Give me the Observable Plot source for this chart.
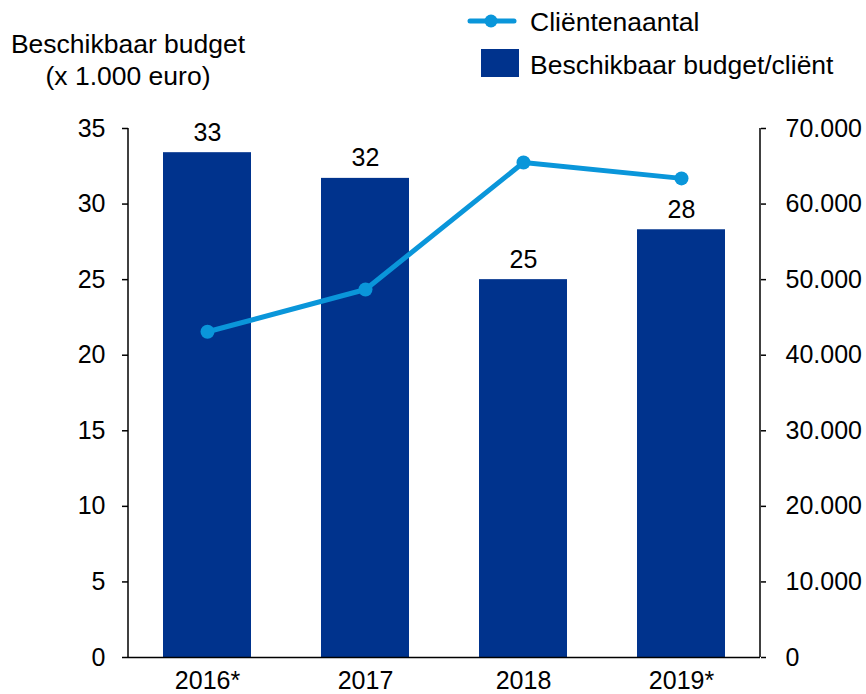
<!DOCTYPE html>
<html>
<head>
<meta charset="utf-8">
<script src="https://cdn.jsdelivr.net/npm/d3@7"></script>
<script src="https://cdn.jsdelivr.net/npm/@observablehq/plot@0.6"></script>
<style>
  html, body { margin: 0; padding: 0; background: #fff; }
  #chart { width: 866px; height: 694px; }
</style>
</head>
<body>
<div id="chart"></div>
<script>
const years = ["2016*", "2017", "2018", "2019*"];
const budget = [33.4, 31.7, 25.0, 28.3];
const clients = [43100, 48700, 65500, 63400];
const leftTicks = [0, 5, 10, 15, 20, 25, 30, 35];
const rightTicks = [0, 10000, 20000, 30000, 40000, 50000, 60000, 70000];
const titleLines = ["Beschikbaar budget", "(x 1.000 euro)"];
const legendLabels = ["Cliëntenaantal", "Beschikbaar budget/cliënt"];

const lineColor = "#0a96da";
const barColor = "#00338d";
const font = "'Liberation Sans', Arial, sans-serif";

const ratio = 70000 / 35;
const data = years.map((y, i) => ({year: y, budget: budget[i], clients: clients[i], cy: clients[i] / ratio}));
const fmt = d => d === 0 ? "0" : d3.format(",")(d).replace(/,/g, ".");

const chart = Plot.plot({
  width: 866,
  height: 694,
  marginTop: 128,
  marginBottom: 37,
  marginLeft: 128,
  marginRight: 106,
  style: {fontFamily: font, fontSize: "25px", color: "#000", background: "#fff", overflow: "visible"},
  x: {domain: years, paddingInner: 0.44, paddingOuter: 0.22, label: null},
  y: {domain: [0, 35], label: null},
  marks: [
    Plot.barY(data, {x: "year", y: "budget", fill: barColor}),
    Plot.text(data, {x: "year", y: "budget", text: d => String(Math.round(d.budget)), lineAnchor: "bottom", dy: -12, fontSize: 25, fill: "#000"}),
    Plot.line(data, {x: "year", y: "cy", stroke: lineColor, strokeWidth: 5}),
    Plot.dot(data, {x: "year", y: "cy", r: 7, fill: lineColor}),
    Plot.ruleY([0], {stroke: "#000", strokeWidth: 1.5}),
    Plot.axisY(leftTicks, {anchor: "left", tickSize: 6, tickPadding: 17, fontSize: 25, label: null, stroke: "#000", strokeWidth: 1.5}),
    Plot.axisY(rightTicks.map(d => d / ratio), {anchor: "right", tickSize: 5, tickPadding: 20, fontSize: 25, label: null, stroke: "#000", strokeWidth: 1.5, tickFormat: d => fmt(Math.round(d * ratio))}),
    Plot.axisX({tickSize: 0, tickPadding: 14, fontSize: 25, label: null})
  ]
});
document.getElementById("chart").appendChild(chart);

const svg = d3.select(chart);
// vertical axis lines
svg.append("line").attr("x1", 128).attr("x2", 128).attr("y1", 128).attr("y2", 657).attr("stroke", "#000").attr("stroke-width", 1.5);
svg.append("line").attr("x1", 760).attr("x2", 760).attr("y1", 128).attr("y2", 657).attr("stroke", "#000").attr("stroke-width", 1.5);

// left axis title
const tg = svg.append("g").attr("font-family", font).attr("font-size", 26.5).attr("text-anchor", "middle").attr("fill", "#000");
titleLines.forEach((t, i) => tg.append("text").attr("x", 128).attr("y", 53 + i * 32).text(t));

// legend
const lg = svg.append("g").attr("font-family", font).attr("font-size", 26.5).attr("text-anchor", "start").attr("fill", "#000");
lg.append("line").attr("x1", 470).attr("x2", 514).attr("y1", 21).attr("y2", 21).attr("stroke", lineColor).attr("stroke-width", 5).attr("stroke-linecap", "round");
lg.append("circle").attr("cx", 491).attr("cy", 21).attr("r", 6.5).attr("fill", lineColor);
lg.append("text").attr("x", 530).attr("y", 31).text(legendLabels[0]);
lg.append("rect").attr("x", 481).attr("y", 49).attr("width", 38).attr("height", 28).attr("fill", barColor);
lg.append("text").attr("x", 530).attr("y", 74).text(legendLabels[1]);
</script>
</body>
</html>
